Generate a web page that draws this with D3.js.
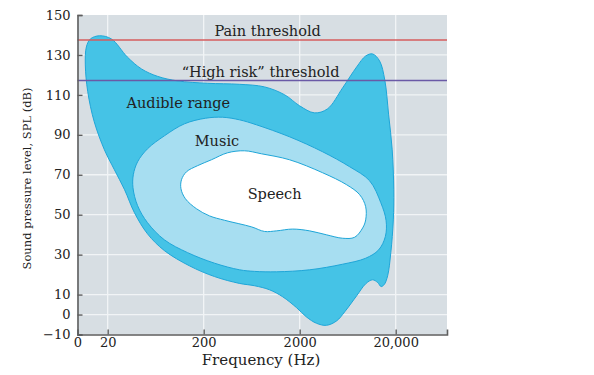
<!DOCTYPE html>
<html>
<head>
<meta charset="utf-8">
<script src="https://cdn.jsdelivr.net/npm/d3@7"></script>
<style>
  body { margin: 0; background: #fff; }
  text { font-family: "DejaVu Serif", serif; fill: #222; }
</style>
</head>
<body>
<svg></svg>
<script>
const size = {w: 594, h: 375};
const plot = {l: 77.5, r: 447, t: 15, b: 334.5};

// x ticks (Hz); the first one is the axis origin, labelled "0"
const xTickValues = [9.7, 20, 200, 2000, 20000];
const xTickLabels = ['0', '20', '200', '2000', '20,000'];
const yTickValues = [-10, 0, 10, 30, 50, 70, 90, 110, 130, 150];
const xGrid = [20, 200, 2000, 20000];
const yGrid = [0, 10, 30, 50, 70, 90, 110, 130];

const painThreshold = 137.5;
const highRiskThreshold = 117.2;

// outlines, [frequency Hz, SPL dB]
const audible = [
  [12, 134], [13.2, 138], [16.4, 139.6], [21.9, 138], [32, 129], [45, 123],
  [66, 119.3], [107, 117], [220, 115.8], [470, 115.3], [860, 114], [1400, 110],
  [2000, 104.5], [2850, 101], [3900, 103], [5600, 113.5], [7850, 124],
  [9750, 129.5], [11500, 130.5], [13600, 127], [15400, 117.5], [16900, 100],
  [18400, 82.5], [19100, 62.5], [18900, 47.4], [17800, 31], [16500, 19.4],
  [15200, 15], [14100, 14], [13000, 16], [11500, 17.4], [9750, 15.4],
  [7850, 9.4], [5900, 1.4], [4850, -3.2], [3800, -5.4], [3000, -4.4],
  [2350, -1.2], [1860, 3.4], [1330, 8.9], [970, 12.4], [680, 14.4],
  [470, 15.6], [260, 19], [142, 24.4], [78, 32], [52, 40.4], [38, 51],
  [30, 62.5], [23.5, 72.5], [18.5, 82.5], [14.5, 96.5], [12.4, 111.6], [11.7, 125]
];
const music = [
  [37, 70], [41, 76.5], [52, 83], [78, 89.5], [126, 95.5], [209, 98.3],
  [315, 98.8], [473, 97.5], [710, 95], [1570, 89], [3470, 81.5], [6640, 74],
  [10700, 67], [14000, 56], [15900, 47], [15600, 39], [13300, 32.4],
  [9750, 28.2], [5600, 25.2], [2540, 22.4], [1150, 21.4], [680, 21.6],
  [473, 22.4], [260, 25.7], [136, 31], [78, 37.4], [52, 46], [41, 54.5], [36.7, 63.5]
];
const speech = [
  [117.5, 67.5], [132.5, 71.5], [172, 74.5], [241, 77.5], [355, 81], [533, 82],
  [800, 80.5], [1570, 77.5], [3470, 71], [6170, 65], [8440, 60], [9740, 54],
  [9740, 47.4], [9070, 43.4], [7480, 38.7], [5610, 38.2], [3820, 39.9],
  [2540, 41.9], [1690, 42.8], [1150, 41.9], [860, 41.6], [630, 43.9],
  [330, 47.2], [230, 49.4], [168, 53], [129, 58], [116, 63]
];

const svg = d3.select('svg')
    .attr('width', size.w)
    .attr('height', size.h);

const x = d3.scaleLog().domain([9.7, 68500]).range([plot.l, plot.r]);
const y = d3.scaleLinear().domain([-10, 150]).range([plot.b, plot.t]);

// plot background
svg.append('rect')
    .attr('x', plot.l).attr('y', plot.t)
    .attr('width', plot.r - plot.l).attr('height', plot.b - plot.t)
    .attr('fill', '#d7dee3');

// white grid
const gridG = svg.append('g').attr('stroke', '#f1f4f6').attr('stroke-width', 1.3);
gridG.selectAll('line.h').data(yGrid).join('line').classed('h', true)
    .attr('x1', plot.l).attr('x2', plot.r)
    .attr('y1', d => y(d)).attr('y2', d => y(d));
gridG.selectAll('line.v').data(xGrid).join('line').classed('v', true)
    .attr('x1', d => x(d)).attr('x2', d => x(d))
    .attr('y1', plot.t).attr('y2', plot.b);

// the three regions
const area = d3.line()
    .x(d => x(d[0]))
    .y(d => y(d[1]))
    .curve(d3.curveCatmullRomClosed.alpha(0.5));

const regions = [
  {pts: audible, fill: '#45c3e6'},
  {pts: music, fill: '#a7def1'},
  {pts: speech, fill: '#ffffff'}
];
svg.append('g').selectAll('path')
    .data(regions)
    .join('path')
    .attr('d', d => area(d.pts))
    .attr('fill', d => d.fill)
    .attr('stroke', '#1fa6d8')
    .attr('stroke-width', 1);

// threshold lines
svg.append('line')
    .attr('x1', plot.l).attr('x2', plot.r)
    .attr('y1', y(painThreshold)).attr('y2', y(painThreshold))
    .attr('stroke', '#d65c5e').attr('stroke-width', 1.5);
svg.append('line')
    .attr('x1', plot.l).attr('x2', plot.r)
    .attr('y1', y(highRiskThreshold)).attr('y2', y(highRiskThreshold))
    .attr('stroke', '#6a5aa6').attr('stroke-width', 1.5);

// labels inside the plot
const labels = [
  {text: 'Pain threshold', f: 927, db: 139.5},
  {text: '\u201CHigh risk\u201D threshold', f: 783, db: 119.1},
  {text: 'Audible range', f: 109, db: 103.3},
  {text: 'Music', f: 275, db: 84.5},
  {text: 'Speech', f: 1096, db: 57.8}
];
svg.append('g').selectAll('text')
    .data(labels)
    .join('text')
    .attr('x', d => x(d.f))
    .attr('y', d => y(d.db))
    .attr('text-anchor', 'middle')
    .style('font-size', '14.5px')
    .text(d => d.text);

// axes
const xAxis = d3.axisBottom(x)
    .tickValues(xTickValues)
    .tickFormat((d, i) => xTickLabels[i])
    .tickSize(-5)
    .tickPadding(3);
const yAxis = d3.axisLeft(y)
    .tickValues(yTickValues)
    .tickFormat(d => d < 0 ? '\u2212' + Math.abs(d) : d)
    .tickSize(-5)
    .tickPadding(7);

const xG = svg.append('g')
    .attr('transform', `translate(0,${plot.b})`)
    .call(xAxis);
const yG = svg.append('g')
    .attr('transform', `translate(${plot.l},0)`)
    .call(yAxis);

[xG, yG].forEach(g => {
  g.select('.domain').attr('stroke', '#5e5e5e').attr('stroke-width', 1.6);
  g.selectAll('.tick line').attr('stroke', '#5e5e5e').attr('stroke-width', 1.4);
  g.selectAll('.tick text')
      .style('font-family', '"DejaVu Serif", serif')
      .style('font-size', '13px')
      .attr('fill', '#222');
});
xG.selectAll('.tick').filter((d, i) => i === 0).select('line').remove();

// axis titles
svg.append('text')
    .attr('x', 261).attr('y', 365)
    .attr('text-anchor', 'middle')
    .style('font-size', '15px')
    .text('Frequency (Hz)');
svg.append('text')
    .attr('transform', 'translate(30.5,178.5) rotate(-90)')
    .attr('text-anchor', 'middle')
    .style('font-size', '11.5px')
    .text('Sound pressure level, SPL (dB)');
</script>
</body>
</html>
